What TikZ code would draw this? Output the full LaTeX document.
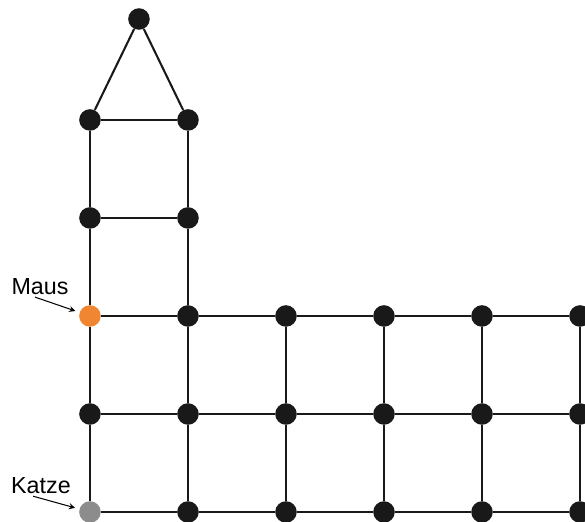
\documentclass[tikz,border=0pt]{standalone}
\usepackage{fontspec}
\setmainfont{Liberation Sans}
\usepackage{xcolor}
\usepackage{tikz}
\usetikzlibrary{arrows, positioning}

\definecolor{mausorange}{RGB}{240,133,50}
\definecolor{katzegray}{RGB}{140,140,140}

\begin{document}
\begin{tikzpicture}[x=2cm, y=2cm]
				% Styles
				\tikzstyle{dot} = [circle, fill=black!90, inner sep=0pt, minimum size=0.44cm]
				\tikzstyle{mausdot} = [dot, fill=mausorange]
				\tikzstyle{katzedot} = [dot, fill=katzegray]
				\tikzstyle{edge} = [line width=1.2pt, black!90]
				\tikzstyle{lbl} = [font=\fontsize{13.5}{16}\selectfont, inner sep=1pt]
				\tikzstyle{arrow} = [line width=0.6pt, ->, >=stealth, shorten >=2.5pt]

				\useasboundingbox (-0.918,-0.102) rectangle (5.051,5.224);

				% Nodes
				\node (katze) [katzedot] at (0,0) {};
				\node (b1) [dot] at (1,0) {};
				\node (b2) [dot] at (2,0) {};
				\node (b3) [dot] at (3,0) {};
				\node (b4) [dot] at (4,0) {};
				\node (b5) [dot] at (5,0) {};

				\node (m0) [dot] at (0,1) {};
				\node (m1) [dot] at (1,1) {};
				\node (m2) [dot] at (2,1) {};
				\node (m3) [dot] at (3,1) {};
				\node (m4) [dot] at (4,1) {};
				\node (m5) [dot] at (5,1) {};

				\node (maus) [mausdot] at (0,2) {};
				\node (u1) [dot] at (1,2) {};
				\node (u2) [dot] at (2,2) {};
				\node (u3) [dot] at (3,2) {};
				\node (u4) [dot] at (4,2) {};
				\node (u5) [dot] at (5,2) {};

				\node (tl1) [dot] at (0,3) {};
				\node (tr1) [dot] at (1,3) {};
				\node (tl2) [dot] at (0,4) {};
				\node (tr2) [dot] at (1,4) {};
				\node (apex) [dot] at (0.5,5.03) {};

				\node (mauslbl) [lbl] at (-0.51,2.296) {Maus};
				\node (katzelbl) [lbl] at (-0.5,0.265) {Katze};

				% Connections
				\draw [edge] (katze) -- (b1) -- (b2) -- (b3) -- (b4) -- (b5);
				\draw [edge] (m0) -- (m1) -- (m2) -- (m3) -- (m4) -- (m5);
				\draw [edge] (maus) -- (u1) -- (u2) -- (u3) -- (u4) -- (u5);
				\draw [edge] (tl1) -- (tr1);
				\draw [edge] (tl2) -- (tr2);
				\draw [edge] (katze) -- (m0) -- (maus) -- (tl1) -- (tl2);
				\draw [edge] (b1) -- (m1) -- (u1) -- (tr1) -- (tr2);
				\draw [edge] (b2) -- (m2) -- (u2);
				\draw [edge] (b3) -- (m3) -- (u3);
				\draw [edge] (b4) -- (m4) -- (u4);
				\draw [edge] (b5) -- (m5) -- (u5);
				\draw [edge] (tl2) -- (apex) -- (tr2);
				\draw [arrow] ([xshift=-0.1cm]mauslbl.south) -- (maus);
				\draw [arrow] ([xshift=-0.16cm]katzelbl.south) -- (katze);

			\end{tikzpicture}
\end{document}
